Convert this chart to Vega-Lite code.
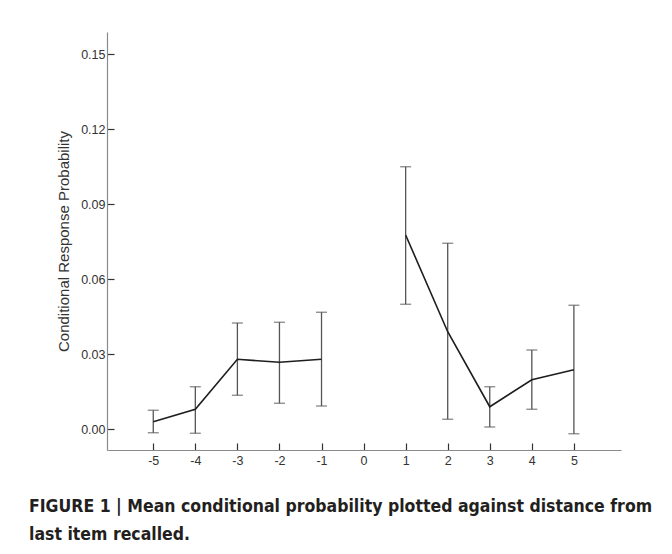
{
  "$schema": "https://vega.github.io/schema/vega-lite/v6.json",
  "width": 514,
  "height": 418,
  "autosize": {"type": "none"},
  "padding": {"left": 107, "top": 32, "right": 51, "bottom": 104},
  "background": "white",
  "config": {
    "view": {"stroke": null},
    "font": "Liberation Sans",
    "axis": {
      "domainColor": "#8a8a8a",
      "domainWidth": 1.2,
      "tickColor": "#333333",
      "tickWidth": 1.2,
      "tickSize": -7,
      "grid": false,
      "labelFont": "Liberation Sans",
      "labelFontSize": 12.5,
      "labelColor": "#333333",
      "titleFont": "Liberation Sans",
      "titleFontWeight": "normal",
      "titleColor": "#333333"
    }
  },
  "title": {
    "text": ["FIGURE 1 | Mean conditional probability plotted against distance from", "last item recalled."],
    "orient": "bottom",
    "anchor": "start",
    "frame": "group",
    "dx": -78,
    "offset": 31,
    "font": "DejaVu Sans Condensed, Liberation Sans Narrow, Liberation Sans",
    "fontWeight": "bold",
    "fontSize": 17.5,
    "lineHeight": 28,
    "color": "#231f20"
  },
  "data": {
    "values": [
      {"distance": -5, "mean": 0.0029, "lo": -0.0015, "hi": 0.0075, "seg": "before"},
      {"distance": -4, "mean": 0.0079, "lo": -0.0017, "hi": 0.0169, "seg": "before"},
      {"distance": -3, "mean": 0.0279, "lo": 0.0135, "hi": 0.0424, "seg": "before"},
      {"distance": -2, "mean": 0.0267, "lo": 0.0103, "hi": 0.0427, "seg": "before"},
      {"distance": -1, "mean": 0.0279, "lo": 0.0092, "hi": 0.0467, "seg": "before"},
      {"distance": 1, "mean": 0.0776, "lo": 0.0499, "hi": 0.1049, "seg": "after"},
      {"distance": 2, "mean": 0.0389, "lo": 0.0039, "hi": 0.0743, "seg": "after"},
      {"distance": 3, "mean": 0.0089, "lo": 0.0008, "hi": 0.0169, "seg": "after"},
      {"distance": 4, "mean": 0.0197, "lo": 0.0079, "hi": 0.0316, "seg": "after"},
      {"distance": 5, "mean": 0.0237, "lo": -0.0019, "hi": 0.0495, "seg": "after"}
    ]
  },
  "encoding": {
    "x": {
      "field": "distance",
      "type": "quantitative",
      "scale": {"domain": [-6.1, 6.12], "nice": false, "zero": false},
      "axis": {
        "values": [-5, -4, -3, -2, -1, 0, 1, 2, 3, 4, 5],
        "labelExpr": "datum.value < 0 ? '-' + abs(datum.value) : '' + datum.value",
        "title": null,
        "labelPadding": 11
      }
    }
  },
  "layer": [
    {
      "mark": {
        "type": "errorbar",
        "ticks": {"size": 11, "color": "#555555", "thickness": 1.3},
        "rule": {"color": "#555555", "strokeWidth": 1.3}
      },
      "encoding": {
        "y": {
          "field": "lo",
          "type": "quantitative",
          "scale": {"domain": [-0.0084, 0.1588], "nice": false, "zero": false},
          "axis": {
            "values": [0, 0.03, 0.06, 0.09, 0.12, 0.15],
            "format": ".2f",
            "title": "Conditional Response Probability",
            "titleFontSize": 15,
            "titlePadding": 9,
            "labelPadding": 9
          }
        },
        "y2": {"field": "hi"}
      }
    },
    {
      "mark": {"type": "line", "color": "#1e1e1e", "strokeWidth": 1.6},
      "encoding": {
        "y": {"field": "mean", "type": "quantitative"},
        "detail": {"field": "seg"}
      }
    }
  ]
}
